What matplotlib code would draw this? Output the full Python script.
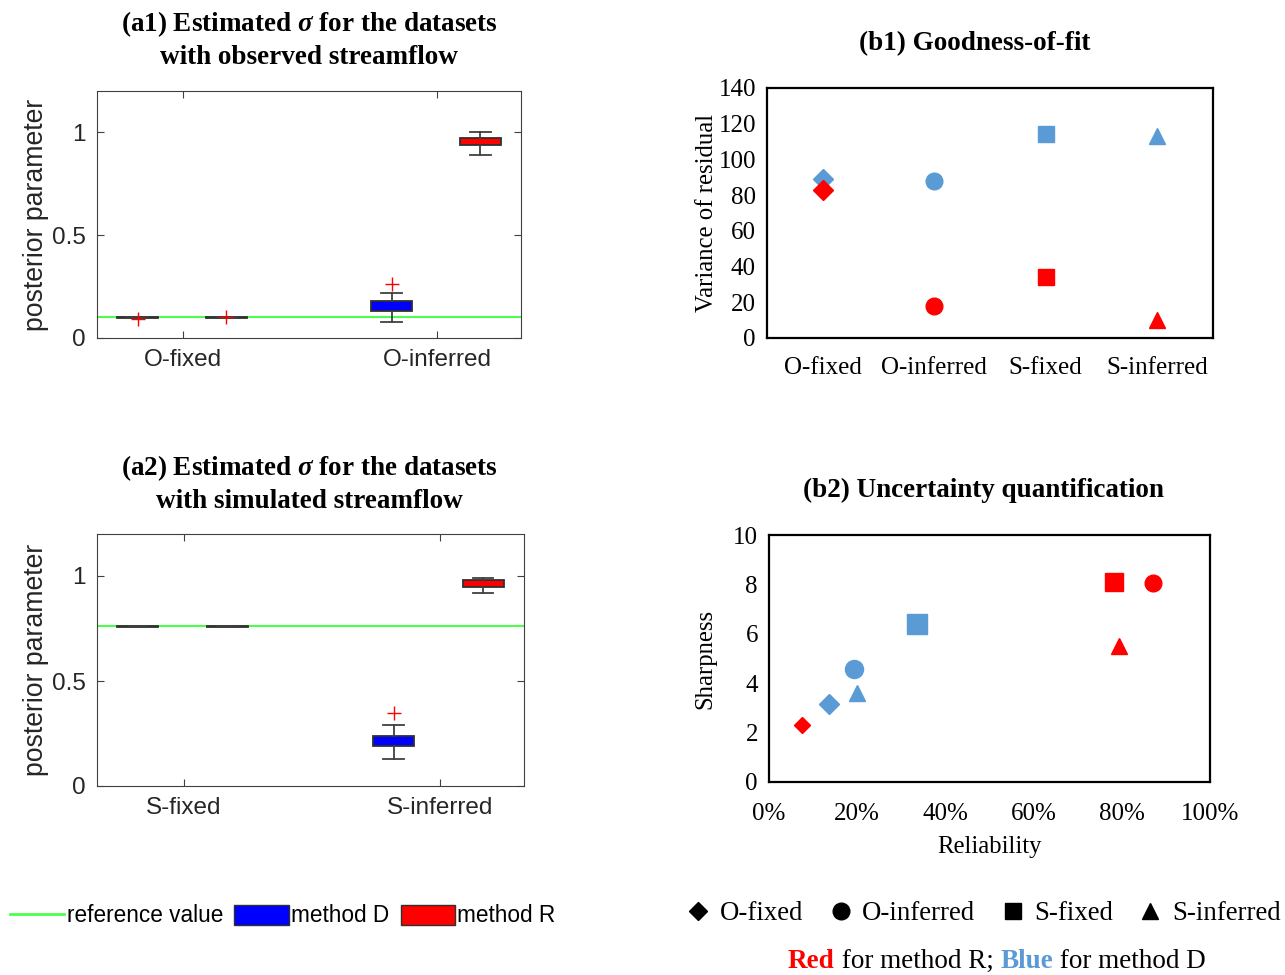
import matplotlib
matplotlib.use("Agg")
import matplotlib.pyplot as plt
from matplotlib.lines import Line2D
from matplotlib.patches import Patch
from matplotlib.text import Annotation

plt.rcParams['mathtext.fontset'] = 'custom'
plt.rcParams['mathtext.it'] = 'Liberation Serif:italic:bold'
plt.rcParams['mathtext.rm'] = 'Liberation Serif:bold'

W, H = 1285, 975

# ---- data: boxplots (a1, a2) ----
groups_a1 = ['O-fixed', 'O-inferred']
groups_a2 = ['S-fixed', 'S-inferred']
ref_a1 = 0.1
ref_a2 = 0.76
# (whislo, q1, med, q3, whishi, fliers) per group, method D then method R
box_a1_D = [(0.099, 0.099, 0.1, 0.101, 0.101, [0.094]), (0.08, 0.13, 0.15, 0.18, 0.22, [0.26])]
box_a1_R = [(0.099, 0.099, 0.1, 0.101, 0.101, [0.103]), (0.89, 0.94, 0.96, 0.97, 1.0, [])]
box_a2_D = [(0.759, 0.759, 0.76, 0.761, 0.761, []), (0.13, 0.19, 0.21, 0.24, 0.29, [0.35])]
box_a2_R = [(0.759, 0.759, 0.76, 0.761, 0.761, []), (0.92, 0.95, 0.97, 0.98, 0.99, [])]

# ---- data: goodness of fit (b1) ----
cases = ['O-fixed', 'O-inferred', 'S-fixed', 'S-inferred']
markers = ['D', 'o', 's', '^']
var_D = [89, 88, 114, 113]
var_R = [83, 18, 34, 10]

# ---- data: uncertainty quantification (b2) ----
rel_D = [0.136, 0.193, 0.336, 0.20]
sharp_D = [3.15, 4.57, 6.4, 3.6]
rel_R = [0.075, 0.87, 0.782, 0.793]
sharp_R = [2.3, 8.05, 8.1, 5.5]

BOX_D = '#0000ff'
BOX_R = '#ff0000'
GREEN = '#4cff4c'
PT_D = '#5b9bd5'
PT_R = '#ff0000'
SANS = 'Liberation Sans'
SERIF = 'Liberation Serif'
TITLE_SIZE = 19.5


def px_axes(fig, l, t, r, b):
    return fig.add_axes([l / W, 1 - b / H, (r - l) / W, (b - t) / H])


def stats(rows):
    out = []
    for lo, q1, med, q3, hi, fl in rows:
        out.append(dict(whislo=lo, q1=q1, med=med, q3=q3, whishi=hi, fliers=fl))
    return out


def draw_box(ax, groups, ref, boxD, boxR):
    pos = range(1, len(groups) + 1)
    ax.axhline(ref, color=GREEN, lw=1.5, zorder=1)
    for data, off, col in [(boxD, -0.18, BOX_D), (boxR, 0.17, BOX_R)]:
        ax.bxp(stats(data), positions=[p + off for p in pos], widths=0.16,
               patch_artist=True, manage_ticks=False,
               boxprops=dict(facecolor=col, edgecolor='#303030', lw=1.3),
               whiskerprops=dict(color='#404040', lw=1.3, ls='-'),
               capprops=dict(color='#404040', lw=1.3),
               medianprops=dict(color=col, lw=0),
               flierprops=dict(marker='+', markeredgecolor='red', markersize=10, lw=0))
    ax.set_xlim(0.66, 2.33)
    ax.set_ylim(0, 1.2)
    ax.set_xticks(list(pos))
    ax.set_xticklabels(groups)
    ax.set_yticks([0, 0.5, 1])
    ax.set_yticklabels(['0', '0.5', '1'])
    ax.tick_params(direction='in', top=True, right=True, length=5, color='#404040',
                   labelsize=17.5, labelcolor='#262626', pad=8)
    for lab in ax.get_xticklabels() + ax.get_yticklabels():
        lab.set_family(SANS)
    for s in ax.spines.values():
        s.set_color('#404040')
    ax.set_ylabel('posterior parameter', fontsize=19.2, family=SANS, color='#262626', labelpad=2)


def excel_style(ax):
    for s in ax.spines.values():
        s.set_color('black')
        s.set_linewidth(1.6)
    ax.tick_params(length=0, labelsize=18, pad=8)
    for lab in ax.get_xticklabels() + ax.get_yticklabels():
        lab.set_family(SERIF)


def title_lines(fig, x, ys, lines):
    for y, line in zip(ys, lines):
        fig.text(x / W, 1 - y / H, line, ha='center', va='center',
                 family=SERIF, weight='bold', fontsize=TITLE_SIZE)


fig = plt.figure(figsize=(W / 100, H / 100), dpi=100)

# (a1)
ax = px_axes(fig, 97, 91, 521, 338)
draw_box(ax, groups_a1, ref_a1, box_a1_D, box_a1_R)
title_lines(fig, 309, [24, 57], [r'(a1) Estimated $\sigma$ for the datasets', 'with observed streamflow'])

# (a2)
ax = px_axes(fig, 97, 534, 524, 786)
draw_box(ax, groups_a2, ref_a2, box_a2_D, box_a2_R)
title_lines(fig, 309, [468, 501], [r'(a2) Estimated $\sigma$ for the datasets', 'with simulated streamflow'])

# (b1)
ax = px_axes(fig, 767, 88, 1213, 338)
for i in range(len(cases)):
    ms = 12 if markers[i] != 'D' else 10
    ax.plot(i, var_D[i], marker=markers[i], color=PT_D, ms=ms, ls='none', zorder=2)
    ax.plot(i, var_R[i], marker=markers[i], color=PT_R, ms=ms, ls='none', zorder=3)
ax.set_xlim(-0.5, 3.5)
ax.set_ylim(0, 140)
ax.set_yticks(range(0, 141, 20))
ax.set_xticks(range(len(cases)))
ax.set_xticklabels(cases)
excel_style(ax)
ax.tick_params(axis='x', pad=14)
ax.set_ylabel('Variance of residual', family=SERIF, fontsize=17.8, labelpad=0)
title_lines(fig, 975, [44], ['(b1) Goodness-of-fit'])

# (b2)
ax = px_axes(fig, 769, 535, 1210, 782)
for i in range(len(cases)):
    ax.plot(rel_D[i], sharp_D[i], marker=markers[i], color=PT_D,
            ms=[10, 13, 14, 12][i], ls='none')
    ax.plot(rel_R[i], sharp_R[i], marker=markers[i], color=PT_R,
            ms=[8, 12, 13, 11][i], ls='none')
ax.set_xlim(0, 1)
ax.set_ylim(0, 10)
ax.set_xticks([0, 0.2, 0.4, 0.6, 0.8, 1.0])
ax.set_xticklabels(['0%', '20%', '40%', '60%', '80%', '100%'])
ax.set_yticks(range(0, 11, 2))
excel_style(ax)
ax.tick_params(axis='x', pad=15)
ax.set_xlabel('Reliability', family=SERIF, fontsize=17.8, labelpad=8)
ax.set_ylabel('Sharpness', family=SERIF, fontsize=17.8, labelpad=12)
title_lines(fig, 983, [490], ['(b2) Uncertainty quantification'])

# legend, boxplots
h_left = [Line2D([], [], color=GREEN, lw=2),
          Patch(facecolor=BOX_D, edgecolor='#303030'),
          Patch(facecolor=BOX_R, edgecolor='#303030')]
fig.legend(h_left, ['reference value', 'method D', 'method R'], loc='center left',
           bbox_to_anchor=(-0.008, 1 - 916 / H), ncol=3, frameon=False,
           handlelength=2.4, handleheight=1.0, handletextpad=0.1, columnspacing=0.5,
           prop=dict(family=SANS, size=16.3))

# legend, markers
h_right = [Line2D([], [], marker=m, color='black', ls='none', ms=s)
           for m, s in zip(markers, [9, 12, 12, 11])]
fig.legend(h_right, cases, loc='center', bbox_to_anchor=(984 / W, 1 - 914 / H), ncol=4,
           frameon=False, handlelength=0.8, handletextpad=0.4, columnspacing=1.0,
           prop=dict(family=SERIF, size=19.3))

# coloured note below the marker legend
t1 = fig.text(788 / W, 1 - 961 / H, 'Red', color='red', weight='bold', family=SERIF,
              fontsize=19.5, va='center')
prev = t1
for txt, wt, col in [(' for method R; ', 'normal', 'black'), ('Blue', 'bold', PT_D),
                     (' for method D', 'normal', 'black')]:
    prev = fig.add_artist(Annotation(txt, xy=(1, 0), xycoords=prev, va='bottom',
                                     family=SERIF, fontsize=19.5, weight=wt, color=col))

fig.savefig('out.png', dpi=100)
